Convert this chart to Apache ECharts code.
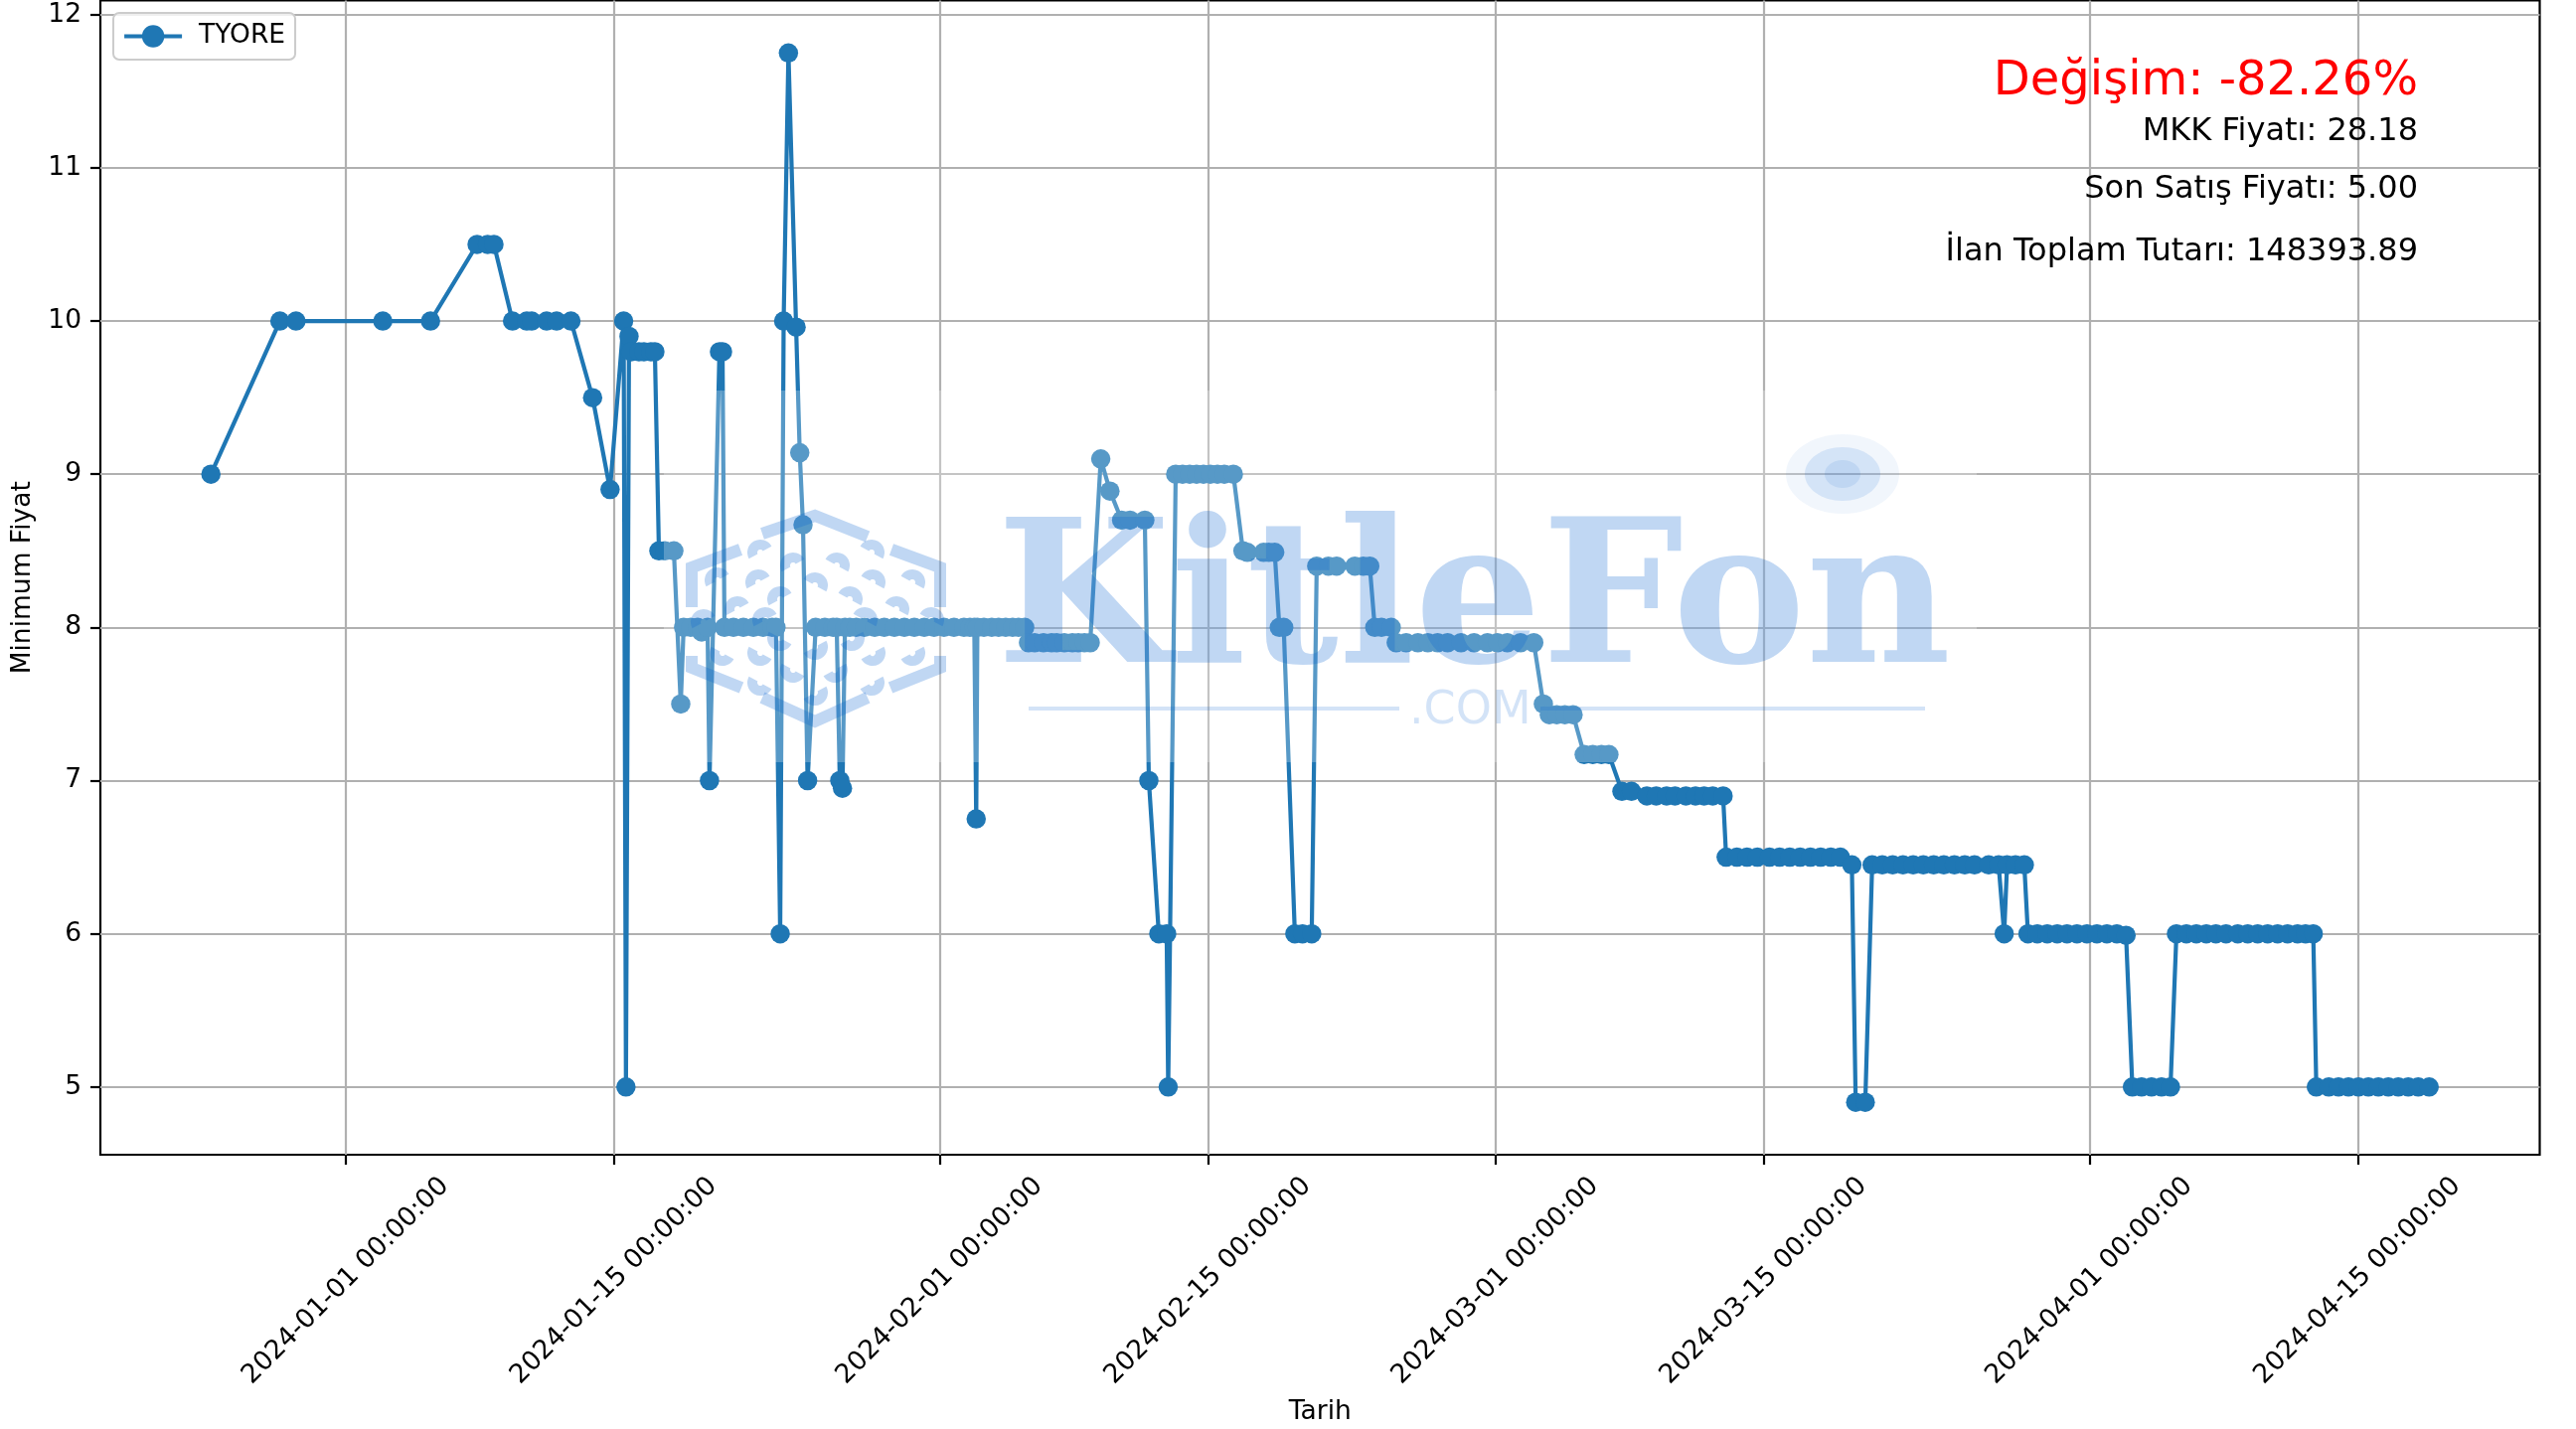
<!DOCTYPE html>
<html>
<head>
<meta charset="utf-8">
<title>TYORE</title>
<script src="https://cdn.jsdelivr.net/npm/echarts@6/dist/echarts.min.js"></script>
<style>
html, body { margin: 0; padding: 0; background: #fff; }
#container { width: 2592px; height: 1438px; }
</style>
</head>
<body>
<div id="container"></div>
<script>
var seriesName = 'TYORE';
var xTickLabels = ['2024-01-01 00:00:00', '2024-01-15 00:00:00', '2024-02-01 00:00:00', '2024-02-15 00:00:00',
    '2024-03-01 00:00:00', '2024-03-15 00:00:00', '2024-04-01 00:00:00', '2024-04-15 00:00:00'];
var yTicks = [5, 6, 7, 8, 9, 10, 11, 12];
var infoLines = ['Değişim: -82.26%', 'MKK Fiyatı: 28.18', 'Son Satış Fiyatı: 5.00', 'İlan Toplam Tutarı: 148393.89'];

// days since 2024-01-01
var dayOffsets = [
    -7.04, -3.44, -2.6, 1.93, 4.42, 6.85, 7.4, 7.73, 8.7, 9.44, 9.7, 10.48, 11, 11.75, 12.88, 13.79, 14.5, 14.62, 14.78,
    14.89, 15.3, 15.56, 15.92, 16.13, 16.34, 16.65, 17.12, 17.48,
    17.63, 18, 18.36, 18.57, 18.88, 18.98, 19.5, 19.66,
    19.76, 20.23, 20.75, 21.27, 21.78, 22.25, 22.45, 22.67, 22.85, 23.1, 23.5, 23.69, 23.86, 24.1,
    24.52, 25, 25.43, 25.62, 25.78, 25.92, 26.05, 26.3, 26.64, 27.07, 27.6, 28.1, 28.63, 29.15, 29.67, 30.19, 30.7, 31.22, 31.74,
    32.26, 32.57, 32.8, 32.9, 32.96, 33.3, 33.71, 34.07, 34.44, 34.8, 35.11, 35.43,
    35.63, 35.95, 36.41, 36.83, 37.1, 37.5, 37.92, 38.23, 38.55, 38.85,
    39.4, 39.88, 40.49, 40.93, 41.7, 41.91, 42.43, 42.84, 42.92,
    43.31, 43.67, 44.04, 44.4, 44.76, 45.12, 45.49, 45.85, 46.32,
    46.82, 47.05, 47.9, 48.17, 48.48, 48.72, 48.95, 49.53, 49.93, 50.41,
    50.67, 51.28, 51.71, 52.66, 53.1, 53.44, 53.7, 54.05, 54.56,
    54.82, 55.34, 55.95, 56.47, 56.98, 57.5, 58.2, 58.88, 59.58, 60.1, 60.62, 61.31, 62,
    62.5, 62.81, 63.2, 63.62, 64.05, 64.63, 65.08, 65.53, 65.92, 66.6, 67.1,
    67.9, 68.39, 68.93, 69.37, 69.94, 70.44, 70.89, 71.34, 71.88,
    72.04, 72.6, 73.13, 73.67, 74.3, 74.83, 75.36, 75.9, 76.44, 76.97, 77.5, 78,
    78.6, 78.8, 79.3,
    79.66, 80.19, 80.73, 81.27, 81.8, 82.33, 82.87, 83.4, 83.95, 84.49, 85, 85.74, 86.26, 86.55, 86.7, 87.14, 87.6,
    87.79, 88.28, 88.8, 89.32, 89.83, 90.35, 90.87, 91.39, 91.91, 92.43, 92.91,
    93.24, 93.72, 94.24, 94.76, 95.23,
    95.54, 96.06, 96.58, 97.1, 97.6, 98.13, 98.74, 99.26, 99.78, 100.3, 100.82, 101.34, 101.86, 102.28, 102.68,
    102.84, 103.49, 104, 104.52, 105.04, 105.56, 106.08, 106.6, 107.12, 107.64, 108.16, 108.73
];
var prices = [
    9, 10, 10, 10, 10, 10.5, 10.5, 10.5, 10, 10, 10, 10, 10, 10, 9.5, 8.9, 10, 5, 9.9,
    9.8, 9.8, 9.8, 9.8, 9.8, 8.5, 8.5, 8.5, 7.5,
    8, 8, 8, 7.97, 8, 7, 9.8, 9.8,
    8, 8, 8, 8, 8, 8, 8, 6, 10, 11.75, 9.96, 9.14, 8.67, 7,
    8, 8, 8, 8, 7, 6.95, 8, 8, 8, 8, 8, 8, 8, 8, 8, 8, 8, 8, 8,
    8, 8, 8, 6.75, 8, 8, 8, 8, 8, 8, 8, 8,
    7.9, 7.9, 7.9, 7.9, 7.9, 7.9, 7.9, 7.9, 7.9, 7.9,
    9.1, 8.89, 8.7, 8.7, 8.7, 7, 6, 6, 5,
    9, 9, 9, 9, 9, 9, 9, 9, 9,
    8.5, 8.49, 8.49, 8.49, 8.49, 8, 8, 6, 6, 6,
    8.4, 8.4, 8.4, 8.4, 8.4, 8.4, 8, 8, 8,
    7.9, 7.9, 7.9, 7.9, 7.9, 7.9, 7.9, 7.9, 7.9, 7.9, 7.9, 7.9, 7.9,
    7.5, 7.43, 7.43, 7.43, 7.43, 7.17, 7.17, 7.17, 7.17, 6.93, 6.93,
    6.9, 6.9, 6.9, 6.9, 6.9, 6.9, 6.9, 6.9, 6.9,
    6.5, 6.5, 6.5, 6.5, 6.5, 6.5, 6.5, 6.5, 6.5, 6.5, 6.5, 6.5,
    6.45, 4.9, 4.9,
    6.45, 6.45, 6.45, 6.45, 6.45, 6.45, 6.45, 6.45, 6.45, 6.45, 6.45, 6.45, 6.45, 6, 6.45, 6.45, 6.45,
    6, 6, 6, 6, 6, 6, 6, 6, 6, 6, 5.99,
    5, 5, 5, 5, 5,
    6, 6, 6, 6, 6, 6, 6, 6, 6, 6, 6, 6, 6, 6, 6,
    5, 5, 5, 5, 5, 5, 5, 5, 5, 5, 5, 5
];

var DAY = 86400000;
var start = new Date('2024-01-01T00:00:00').getTime();
var lineData = dayOffsets.map(function (d, i) {
    return [start + d * DAY, prices[i]];
});
var xTicks = xTickLabels.map(function (s) {
    return new Date(s.replace(' ', 'T')).getTime();
});

var blue = '#1f77b4';
var wmFill = 'rgba(12,100,210,0.26)';
var font = '"DejaVu Sans"';
var tickFontSize = 26.5;

// watermark: lies on top of the plot
var graphics = [
    { type: 'rect', z: 50, silent: true, shape: { x: 668, y: 393, width: 1321, height: 374 }, style: { fill: 'rgba(255,255,255,0.25)' } },
    { type: 'text', z: 51, silent: true, style: { x: 1003, y: 513, text: 'KitleFon', fill: wmFill, fontFamily: '"DejaVu Serif"', fontWeight: 'bold', fontSize: 201, textAlign: 'left', textVerticalAlign: 'top' } },
    { type: 'text', z: 51, silent: true, style: { x: 1418, y: 693, text: '.COM', fill: 'rgba(12,100,210,0.18)', fontFamily: font, fontSize: 46, textAlign: 'left', textVerticalAlign: 'top' } },
    { type: 'rect', z: 51, silent: true, shape: { x: 1035, y: 711, width: 373, height: 4 }, style: { fill: 'rgba(12,100,210,0.18)' } },
    { type: 'rect', z: 51, silent: true, shape: { x: 1550, y: 711, width: 387, height: 4 }, style: { fill: 'rgba(12,100,210,0.18)' } },
    { type: 'ellipse', z: 51, silent: true, shape: { cx: 1854, cy: 477, rx: 57, ry: 40 }, style: { fill: 'rgba(12,100,210,0.06)' } },
    { type: 'ellipse', z: 51, silent: true, shape: { cx: 1854, cy: 477, rx: 38, ry: 27 }, style: { fill: 'rgba(12,100,210,0.12)' } },
    { type: 'ellipse', z: 51, silent: true, shape: { cx: 1854, cy: 477, rx: 18, ry: 14 }, style: { fill: 'rgba(12,100,210,0.1)' } }
];

// hexagon outline of the logo
[
    [[767, 537], [820, 519], [873, 540]],
    [[745, 553], [696, 571], [696, 611]],
    [[897, 553], [946, 571], [946, 611]],
    [[696, 660], [696, 672], [746, 692]],
    [[946, 660], [946, 672], [896, 692]],
    [[767, 702], [820, 726], [873, 702]]
].forEach(function (pts) {
    graphics.push({ type: 'polyline', z: 51, silent: true, shape: { points: pts }, style: { stroke: wmFill, lineWidth: 12, fill: 'none' } });
});

// small crescents inside the logo
[
    [765, 550, 1], [877, 550, 1], [798, 563, 1], [842, 563, 1], [722, 578, 1], [763, 580, 1], [820, 583, 1],
    [878, 580, 1], [918, 580, 1], [785, 597, 1], [855, 597, 1], [742, 607, 1], [902, 607, 1], [708, 620, 1],
    [770, 618, 1], [870, 618, 1], [937, 618, 1], [727, 663, 0], [765, 663, 0], [820, 657, 0], [878, 663, 0],
    [918, 663, 0], [785, 648, 0], [857, 648, 0], [798, 680, 0], [840, 680, 0], [765, 693, 0], [877, 693, 0],
    [820, 703, 0]
].forEach(function (c) {
    var tilt = (c[0] < 820 ? -0.5 : 0.5) * (c[2] ? 1 : -1);
    graphics.push({
        type: 'arc', z: 51, silent: true,
        shape: { cx: c[0], cy: c[1] + (c[2] ? 6 : -6), r: 8, startAngle: (c[2] ? Math.PI : 0) + tilt, endAngle: (c[2] ? 2 * Math.PI : Math.PI) + tilt, clockwise: true },
        style: { stroke: wmFill, lineWidth: 10, fill: 'none' }
    });
});

// info text, top right
var infoStyle = [
    { size: 48, color: '#ff0000', base: 100 },
    { size: 32, color: '#000', base: 144 },
    { size: 32, color: '#000', base: 202 },
    { size: 32, color: '#000', base: 265 }
];
infoLines.forEach(function (txt, i) {
    var st = infoStyle[i];
    graphics.push({
        type: 'text', z: 60, silent: true,
        style: { x: 2433, y: st.base - st.size * 0.36, text: txt, fill: st.color, fontFamily: font, fontSize: st.size, textAlign: 'right', textVerticalAlign: 'middle' }
    });
});

var myChart = echarts.init(document.getElementById('container'), null, { renderer: 'canvas' });

var option = {
    animation: false,
    backgroundColor: '#fff',
    textStyle: { fontFamily: font },
    grid: { left: 101, top: 0.5, width: 2454.5, height: 1161.5, show: true, borderColor: '#000', borderWidth: 2.2, backgroundColor: 'transparent', outerBoundsMode: 'none' },
    legend: {
        left: 114, top: 13, padding: [10, 10, 10, 9],
        itemWidth: 58, itemHeight: 28, symbolSize: 18,
        backgroundColor: 'rgba(255,255,255,0.8)', borderColor: '#ccc', borderWidth: 2, borderRadius: 6,
        lineStyle: { width: 4.2, color: blue },
        textStyle: { fontFamily: font, fontSize: tickFontSize, color: '#000', padding: [0, 0, 0, 12] },
        data: [seriesName]
    },
    xAxis: {
        type: 'value',
        min: start - 12.81 * DAY,
        max: start + 114.5 * DAY,
        name: 'Tarih',
        nameLocation: 'middle',
        nameGap: 259,
        nameTextStyle: { fontFamily: font, fontSize: tickFontSize, color: '#000', verticalAlign: 'middle' },
        axisLine: { show: false },
        axisTick: { show: true, length: 10, customValues: xTicks, lineStyle: { color: '#000', width: 2.2 } },
        axisLabel: {
            customValues: xTicks,
            rotate: 45,
            align: 'center',
            verticalAlign: 'middle',
            margin: 127,
            fontFamily: font,
            fontSize: tickFontSize,
            color: '#000',
            hideOverlap: false,
            formatter: function (v) {
                return echarts.time.format(v, '{yyyy}-{MM}-{dd} {HH}:{mm}:{ss}', false);
            }
        },
        splitLine: { show: true, lineStyle: { color: '#b0b0b0', width: 2.2 } }
    },
    yAxis: {
        type: 'value',
        min: 4.5575,
        max: 12.0925,
        name: 'Minimum Fiyat',
        nameLocation: 'middle',
        nameGap: 78,
        nameRotate: 90,
        nameTextStyle: { fontFamily: font, fontSize: tickFontSize, color: '#000', verticalAlign: 'middle' },
        axisLine: { show: false },
        axisTick: { show: true, length: 10, customValues: yTicks, lineStyle: { color: '#000', width: 2.2 } },
        axisLabel: { customValues: yTicks, margin: 19, fontFamily: font, fontSize: tickFontSize, color: '#000' },
        splitLine: { show: true, lineStyle: { color: '#b0b0b0', width: 2.2 } }
    },
    series: [{
        name: seriesName,
        type: 'line',
        data: lineData,
        symbol: 'circle',
        symbolSize: 19.5,
        showSymbol: true,
        showAllSymbol: true,
        lineStyle: { color: blue, width: 4.2 },
        itemStyle: { color: blue },
        clip: true
    }],
    graphic: { elements: graphics }
};

myChart.setOption(option, true);
</script>
</body>
</html>
